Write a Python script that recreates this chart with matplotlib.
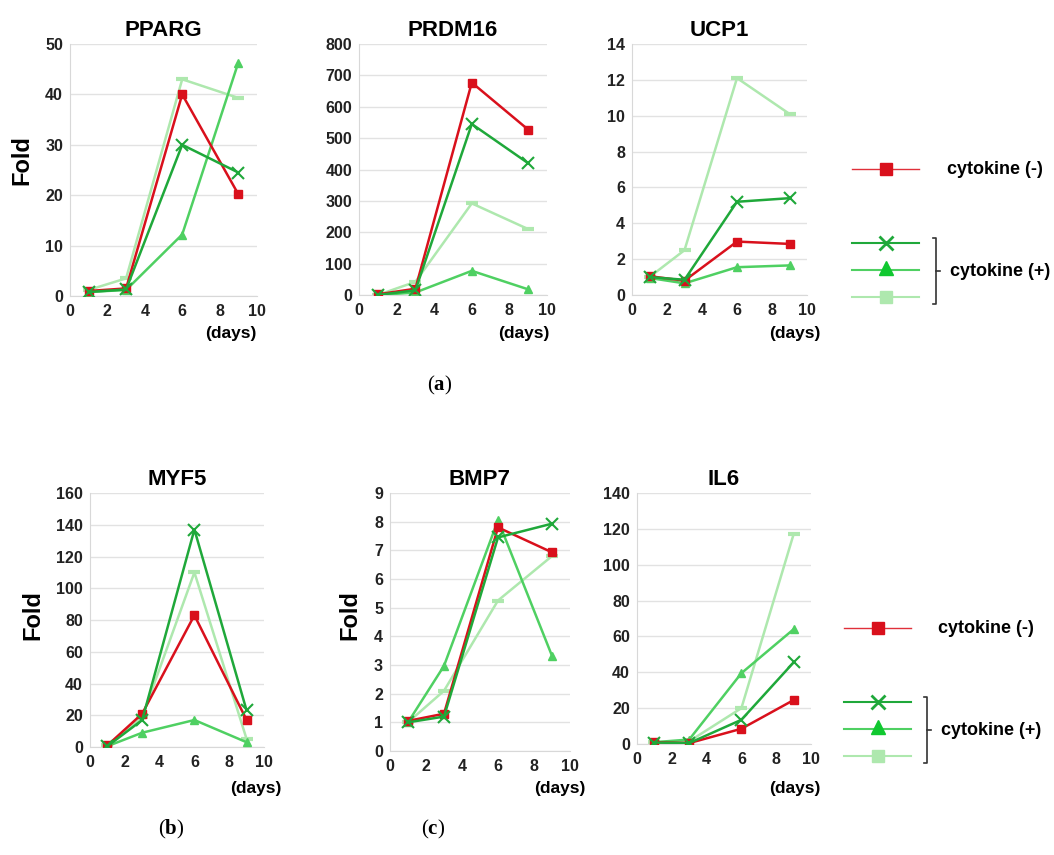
import numpy as np
import matplotlib.pyplot as plt

plt.rcParams['font.family'] = ['Liberation Sans', 'DejaVu Sans']
plt.rcParams['mathtext.fontset'] = 'custom'
plt.rcParams['mathtext.rm'] = 'Liberation Serif'
plt.rcParams['mathtext.bf'] = 'Liberation Serif:bold'

days = [1, 3, 6, 9]

# fold values per gene: red = cytokine(-), x / tri / light = cytokine(+)
pparg_red = [1.0, 1.5, 40.0, 20.2]
pparg_x = [0.8, 1.3, 30.0, 24.5]
pparg_tri = [0.8, 1.2, 12.2, 46.3]
pparg_light = [1.2, 3.5, 43.0, 39.3]

prdm16_red = [2, 20, 677, 527]
prdm16_x = [0, 15, 545, 420]
prdm16_tri = [0, 8, 77, 18]
prdm16_light = [0, 42, 292, 210]

ucp1_red = [1.05, 0.8, 2.98, 2.85]
ucp1_x = [1.0, 0.85, 5.2, 5.4]
ucp1_tri = [0.95, 0.65, 1.55, 1.65]
ucp1_light = [1.0, 2.5, 12.1, 10.1]

myf5_red = [1, 21, 83, 17]
myf5_x = [0.5, 17, 137, 23]
myf5_tri = [0.5, 9, 17, 3]
myf5_light = [1, 19, 110, 5]

bmp7_red = [1.05, 1.3, 7.8, 6.93]
bmp7_x = [1.0, 1.2, 7.45, 7.93]
bmp7_tri = [1.0, 2.97, 8.05, 3.32]
bmp7_light = [1.0, 2.1, 5.25, 6.8]

il6_red = [1, 0.5, 8.5, 24.5]
il6_x = [0.8, 0.5, 13.5, 45.5]
il6_tri = [1, 2.5, 39.5, 64]
il6_light = [1, 1.5, 20, 117]

genes = ['PPARG', 'PRDM16', 'UCP1', 'MYF5', 'BMP7', 'IL6']
series = [
    (pparg_red, pparg_x, pparg_tri, pparg_light),
    (prdm16_red, prdm16_x, prdm16_tri, prdm16_light),
    (ucp1_red, ucp1_x, ucp1_tri, ucp1_light),
    (myf5_red, myf5_x, myf5_tri, myf5_light),
    (bmp7_red, bmp7_x, bmp7_tri, bmp7_light),
    (il6_red, il6_x, il6_tri, il6_light),
]
ymax = [50, 800, 14, 160, 9, 140]
ystep = [10, 100, 2, 20, 1, 20]

RED = '#d9101c'
DKG = '#1fa83a'
MDG = '#4fd062'
LTG = '#aee8ae'

W, H = 1054, 855
# left, right, top, bottom in pixels
boxes = [(70, 257, 44, 296), (359, 547, 44, 295), (632, 807, 44, 295),
         (90, 264, 493, 747), (390, 570, 493, 751), (637, 811, 493, 744)]

fig = plt.figure(figsize=(W / 100, H / 100), dpi=100)

for i, (l, r, t, b) in enumerate(boxes):
    ax = fig.add_axes([l / W, 1 - b / H, (r - l) / W, (b - t) / H])
    red, xs, tri, light = series[i]
    ax.plot(days, light, color=LTG, lw=1.8, marker='_', ms=8, mew=3, zorder=2)
    ax.plot(days, tri, color=MDG, lw=1.8, marker='^', ms=6, zorder=3)
    ax.plot(days, red, color=RED, lw=1.8, marker='s', ms=6, zorder=4)
    ax.plot(days, xs, color=DKG, lw=1.8, marker='x', ms=8, mew=1.5, zorder=5)
    ax.set_xlim(0, 10)
    ax.set_ylim(0, ymax[i])
    ax.set_xticks(range(0, 11, 2))
    ax.set_yticks(np.arange(0, ymax[i] + ystep[i] / 2, ystep[i]))
    ax.yaxis.grid(True, color='#e2e2e2', lw=1)
    ax.set_axisbelow(True)
    for s in ['top', 'right']:
        ax.spines[s].set_visible(False)
    for s in ['left', 'bottom']:
        ax.spines[s].set_color('#d8d8d8')
    ax.tick_params(length=0, labelsize=11.5, pad=6)
    ax.tick_params(axis='y', pad=5)
    for lab in ax.get_xticklabels() + ax.get_yticklabels():
        lab.set_fontweight('bold')
        lab.set_color('#222222')
    ax.set_title(genes[i], fontsize=16, fontweight='bold', pad=6)

ov = fig.add_axes([0, 0, 1, 1])
ov.set_xlim(0, W)
ov.set_ylim(H, 0)
ov.axis('off')

# axis labels
for (x, y) in [(22, 160), (33, 615), (350, 615)]:
    ov.text(x, y, 'Fold', rotation=90, fontsize=17, fontweight='bold', ha='center', va='center')
for (x, y) in [(231, 333), (524, 333), (795, 333), (256, 788), (560, 788), (795, 788)]:
    ov.text(x, y, '(days)', fontsize=12.5, fontweight='bold', ha='center', va='center')

# legends
for (x0, x1, yr, yg, bx, tx, ty) in [(852, 919, 169, 243, 936, 947, 271),
                                     (844, 911, 628, 702, 927, 938, 729)]:
    xm = (x0 + x1) / 2
    ov.plot([x0, x1], [yr, yr], color='#e0303a', lw=1.0)
    ov.plot([xm], [yr], color=RED, marker='s', ms=9)
    ov.text(tx, yr, 'cytokine (-)', fontsize=13, fontweight='bold', va='center')
    ov.plot([x0, x1], [yg, yg], color=DKG, lw=1.5)
    ov.plot([xm], [yg], color=DKG, marker='x', ms=10, mew=2)
    ov.plot([x0, x1], [yg + 27, yg + 27], color=MDG, lw=1.5)
    ov.plot([xm], [yg + 25], color='#10c830', marker='^', ms=10)
    ov.plot([x0, x1], [yg + 54, yg + 54], color=LTG, lw=1.5)
    ov.plot([xm], [yg + 54], color=LTG, marker='s', ms=8)
    ov.plot([bx - 3, bx, bx, bx - 3], [yg - 5, yg - 5, yg + 61, yg + 61], color='#333333', lw=1.2)
    ov.plot([bx, bx + 4], [yg + 28, yg + 28], color='#333333', lw=1.2)
    ov.text(tx + 3, yg + 28, 'cytokine (+)', fontsize=13, fontweight='bold', va='center')

# panel labels
for (x, y, s) in [(440, 385, 'a'), (171, 829, 'b'), (433, 829, 'c')]:
    ov.text(x, y, '($\\mathbf{' + s + '}$)', fontsize=15, family='Liberation Serif',
            ha='center', va='center')

fig.savefig('out.png', dpi=100)
